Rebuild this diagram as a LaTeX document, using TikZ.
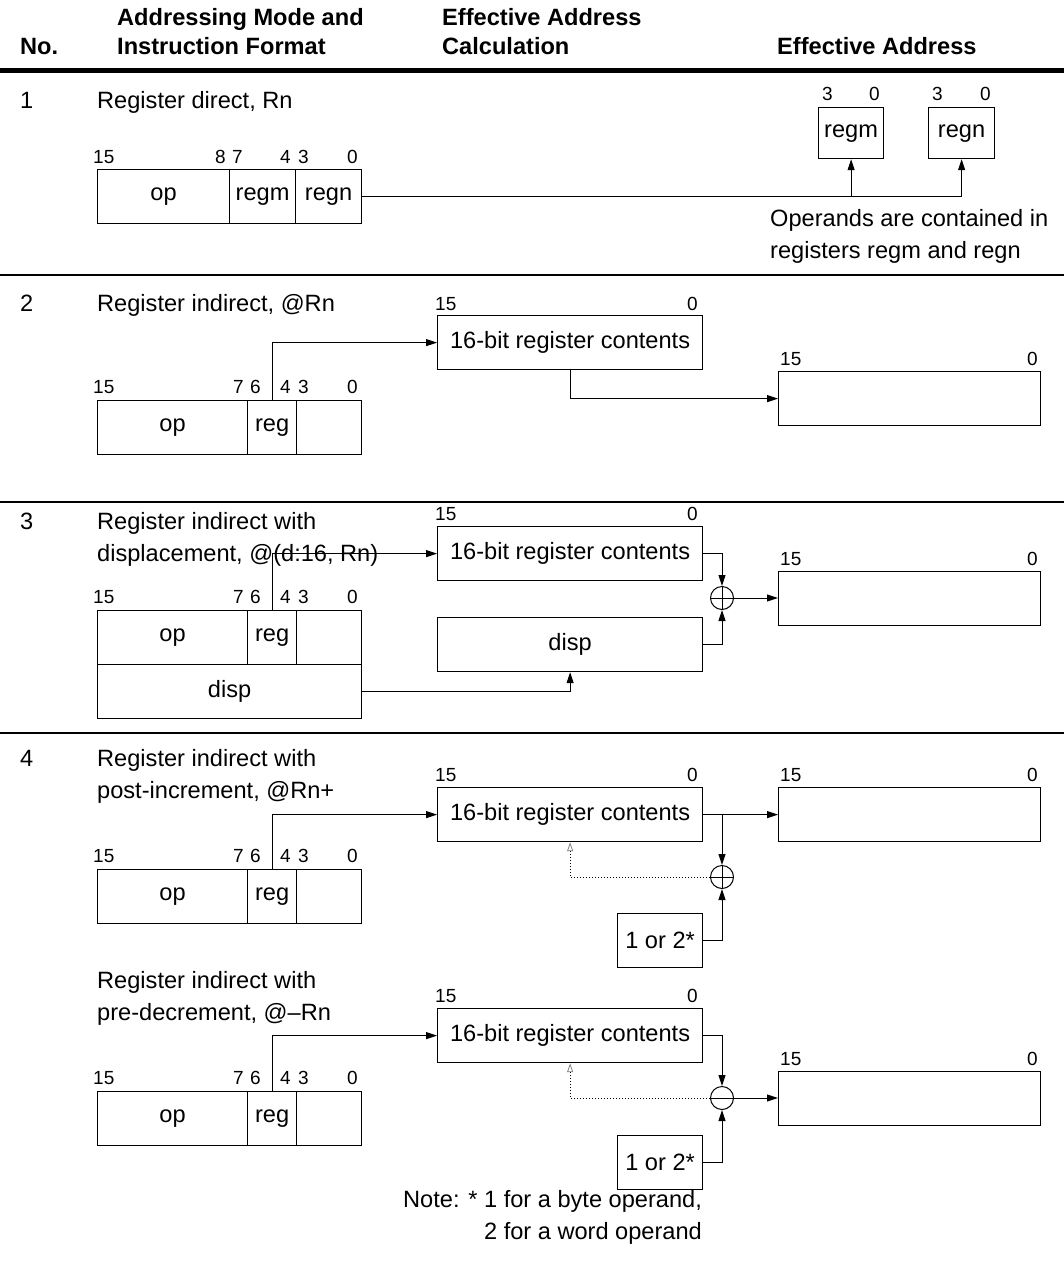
\documentclass[tikz,border=0pt]{standalone}
\usepackage{fontspec}
\setmainfont{Liberation Sans}
\usetikzlibrary{arrows.meta,calc}
\newcommand{\myBody}{\fontsize{23.6}{28}\selectfont}
\newcommand{\myHead}{\fontsize{23.6}{28}\selectfont\bfseries}
\newcommand{\myBit}{\fontsize{19}{22}\selectfont}
\begin{document}
\begin{tikzpicture}[x=1pt,y=-1pt,
 fld/.style={draw,line width=1.2pt,inner sep=0pt,anchor=north west,minimum height=54pt,font=\myBody},
 txt/.style={inner sep=0pt,anchor=base west,font=\myBody},
 hd/.style={inner sep=0pt,anchor=base west,font=\myHead},
 bitl/.style={inner sep=0pt,anchor=base west,font=\myBit},
 bitr/.style={inner sep=0pt,anchor=base east,font=\myBit},
 con/.style={line width=1pt},
 arr/.style={line width=1pt,-{Triangle[length=11pt,width=7pt]}},
 dotarr/.style={line width=1pt,dotted,-{Triangle[open,length=9pt,width=6pt,line width=0.8pt,color=gray]}},
 sum/.style={circle,draw,line width=1pt,minimum size=23pt,inner sep=0pt},
 rule/.style={line width=1.1pt}
]
\useasboundingbox (0,0) rectangle (1064,1264);

% header
\node[hd] (hno) at (20,54) {No.};
\node[hd] (ham1) at (117,25) {Addressing Mode and};
\node[hd] (ham2) at (117,54) {Instruction Format};
\node[hd] (hea1) at (442,25) {Effective Address};
\node[hd] (hea2) at (442,54) {Calculation};
\node[hd] (hea3) at (777,54) {Effective Address};
\draw[line width=4.5pt] (0,70.5) -- (1064,70.5);
\draw[rule] (0,275) -- (1064,275);
\draw[rule] (0,502) -- (1064,502);
\draw[rule] (0,733) -- (1064,733);

% ---------- 1
\node[txt] (n1) at (20,108) {1};
\node[txt] (t1) at (97,108) {Register direct, Rn};
\node[bitl] (b1a) at (93,163) {15};
\node[bitr] (b1b) at (226,163) {8};
\node[bitl] (b1c) at (232,163) {7};
\node[bitr] (b1d) at (291,163) {4};
\node[bitl] (b1e) at (298,163) {3};
\node[bitr] (b1f) at (358,163) {0};
\node[fld,minimum width=132pt] (a1op) at (97,169) {op};
\node[fld,minimum width=66pt] (a1m) at (229,169) {regm};
\node[fld,minimum width=66pt] (a1n) at (295,169) {regn};
\node[fld,minimum width=65pt,minimum height=51pt] (rm) at (818,107) {regm};
\node[fld,minimum width=66pt,minimum height=51pt] (rn) at (928,107) {regn};
\node[bitl] (b1g) at (822,100) {3};
\node[bitr] (b1h) at (880,100) {0};
\node[bitl] (b1i) at (932,100) {3};
\node[bitr] (b1j) at (991,100) {0};
\draw[arr] (a1n.east) -| (rn.south);
\draw[arr] (rm.south |- a1n.east) -- (rm.south);
\node[txt] (o1) at (770,226) {Operands are contained in};
\node[txt] (o2) at (770,258) {registers regm and regn};

% ---------- 2
\node[txt] (n2) at (20,311) {2};
\node[txt] (t2) at (97,311) {Register indirect, @Rn};
\node[bitl] (b2a) at (93,393) {15};
\node[bitr] (b2b) at (244,393) {7};
\node[bitl] (b2c) at (250,393) {6};
\node[bitr] (b2d) at (291,393) {4};
\node[bitl] (b2e) at (298,393) {3};
\node[bitr] (b2f) at (358,393) {0};
\node[fld,minimum width=150pt] (a2op) at (97,400) {op};
\node[fld,minimum width=49pt] (a2r) at (247,400) {reg};
\node[fld,minimum width=65pt] (a2x) at (296,400) {};
\node[bitl] (b2g) at (435,310) {15};
\node[bitr] (b2h) at (698,310) {0};
\node[fld,minimum width=265pt] (r2) at (437,315) {16-bit register contents};
\node[bitl] (b2i) at (780,365) {15};
\node[bitr] (b2j) at (1038,365) {0};
\node[fld,minimum width=262pt] (e2) at (778,371) {};
\draw[arr] (a2r.north) |- (r2.west);
\draw[arr] (r2.south) |- (e2.west);

% ---------- 3
\node[txt] (n3) at (20,529) {3};
\node[txt] (t3a) at (97,529) {Register indirect with};
\node[txt] (t3b) at (97,561) {displacement, @(d:16, Rn)};
\node[bitl] (b3a) at (93,603) {15};
\node[bitr] (b3b) at (244,603) {7};
\node[bitl] (b3c) at (250,603) {6};
\node[bitr] (b3d) at (291,603) {4};
\node[bitl] (b3e) at (298,603) {3};
\node[bitr] (b3f) at (358,603) {0};
\node[fld,minimum width=150pt] (a3op) at (97,610) {op};
\node[fld,minimum width=49pt] (a3r) at (247,610) {reg};
\node[fld,minimum width=65pt] (a3x) at (296,610) {};
\node[fld,minimum width=264pt] (a3d) at (97,664) {disp};
\node[bitl] (b3g) at (435,520) {15};
\node[bitr] (b3h) at (698,520) {0};
\node[fld,minimum width=265pt] (r3) at (437,526) {16-bit register contents};
\node[fld,minimum width=265pt] (d3) at (437,617) {disp};
\node[bitl] (b3i) at (780,565) {15};
\node[bitr] (b3j) at (1038,565) {0};
\node[fld,minimum width=262pt] (e3) at (778,571) {};
\node[sum] (c3) at (722,598) {};
\draw[con] (c3.north) -- (c3.south) (c3.west) -- (c3.east);
\draw[arr] (a3r.north) |- (r3.west);
\draw[arr] (r3.east) -| (c3.north);
\draw[arr] (d3.east) -| (c3.south);
\draw[arr] (c3.east) -- (c3.east -| e3.west);
\draw[arr] (a3d.east) -| (d3.south);

% ---------- 4 (post-increment)
\node[txt] (n4) at (20,766) {4};
\node[txt] (t4a) at (97,766) {Register indirect with};
\node[txt] (t4b) at (97,798) {post-increment, @Rn+};
\node[bitl] (b4a) at (93,862) {15};
\node[bitr] (b4b) at (244,862) {7};
\node[bitl] (b4c) at (250,862) {6};
\node[bitr] (b4d) at (291,862) {4};
\node[bitl] (b4e) at (298,862) {3};
\node[bitr] (b4f) at (358,862) {0};
\node[fld,minimum width=150pt] (a4op) at (97,869) {op};
\node[fld,minimum width=49pt] (a4r) at (247,869) {reg};
\node[fld,minimum width=65pt] (a4x) at (296,869) {};
\node[bitl] (b4g) at (435,781) {15};
\node[bitr] (b4h) at (698,781) {0};
\node[fld,minimum width=265pt] (r4) at (437,787) {16-bit register contents};
\node[bitl] (b4i) at (780,781) {15};
\node[bitr] (b4j) at (1038,781) {0};
\node[fld,minimum width=262pt] (e4) at (778,787) {};
\node[sum] (c4) at (722,877) {};
\draw[con] (c4.north) -- (c4.south) (c4.west) -- (c4.east);
\node[fld,minimum width=85pt] (k4) at (617,913) {1 or 2*};
\draw[arr] (a4r.north) |- (r4.west);
\draw[arr] (r4.east) -- (e4.west);
\draw[arr] (c4.north |- r4.east) -- (c4.north);
\draw[arr] (k4.east) -| (c4.south);
\draw[dotarr] (c4.west) -| (r4.south);

% ---------- 4 (pre-decrement)
\node[txt] (t5a) at (97,988) {Register indirect with};
\node[txt] (t5b) at (97,1020) {pre-decrement, @–Rn};
\node[bitl] (b5a) at (93,1084) {15};
\node[bitr] (b5b) at (244,1084) {7};
\node[bitl] (b5c) at (250,1084) {6};
\node[bitr] (b5d) at (291,1084) {4};
\node[bitl] (b5e) at (298,1084) {3};
\node[bitr] (b5f) at (358,1084) {0};
\node[fld,minimum width=150pt] (a5op) at (97,1091) {op};
\node[fld,minimum width=49pt] (a5r) at (247,1091) {reg};
\node[fld,minimum width=65pt] (a5x) at (296,1091) {};
\node[bitl] (b5g) at (435,1002) {15};
\node[bitr] (b5h) at (698,1002) {0};
\node[fld,minimum width=265pt] (r5) at (437,1008) {16-bit register contents};
\node[bitl] (b5i) at (780,1065) {15};
\node[bitr] (b5j) at (1038,1065) {0};
\node[fld,minimum width=262pt] (e5) at (778,1071) {};
\node[sum] (c5) at (722,1098) {};
\draw[con] (c5.west) -- (c5.east);
\node[fld,minimum width=85pt] (k5) at (617,1135) {1 or 2*};
\draw[arr] (a5r.north) |- (r5.west);
\draw[arr] (r5.east) -| (c5.north);
\draw[arr] (k5.east) -| (c5.south);
\draw[arr] (c5.east) -- (c5.east -| e5.west);
\draw[dotarr] (c5.west) -| (r5.south);

\node[txt] (nt1) at (403,1207) {Note: * 1 for a byte operand,};
\node[txt] (nt2) at (403,1239) {\phantom{Note: * }2 for a word operand};
\end{tikzpicture}
\end{document}
